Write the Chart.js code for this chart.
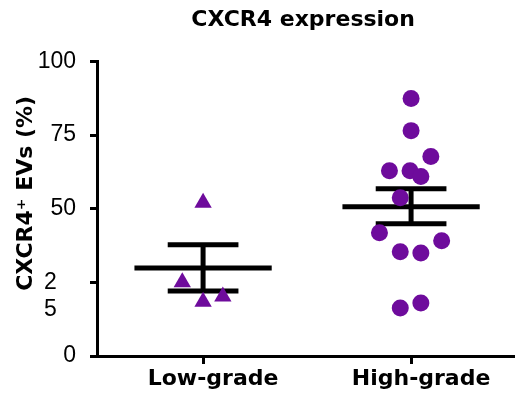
<!DOCTYPE html>
<html>
<head>
<meta charset="utf-8">
<script src="https://cdn.jsdelivr.net/npm/chart.js@4"></script>
<style>
  body { margin: 0; background: #fff; }
  #wrap { width: 523px; height: 408px; }
</style>
</head>
<body>
<div id="wrap"><canvas id="chart"></canvas></div>
<script>
// DATA
const categories = ["Low-grade", "High-grade"];
const yTicks = [0, 25, 50, 75, 100];

// individual points (x = category position incl. jitter, y = %)
const lowX = [1.0, 0.9, 1.0, 1.095];
const lowY = [52.0, 25.0, 18.4, 20.2];
const highX = [2.0, 2.0, 2.095, 1.896, 1.995, 2.047, 1.948, 1.848, 2.147, 1.948, 2.047, 2.047, 1.948];
const highY = [87.4, 76.5, 67.7, 62.9, 62.9, 60.9, 53.7, 41.8, 39.1, 35.4, 35.0, 18.0, 16.3];

// mean +/- SEM
const means = [29.9, 50.7];
const semUp = [37.8, 56.8];
const semDown = [22.1, 44.9];

const purple = "#6e0b9c";
const meanHalf = 0.33;
const capHalf = 0.17;

const toPts = (xs, ys) => xs.map((x, i) => ({ x, y: ys[i] }));

function seg(x1, y1, x2, y2) {
    return {
        type: "line",
        data: [{ x: x1, y: y1 }, { x: x2, y: y2 }],
        borderColor: "#000",
        borderWidth: 5,
        pointRadius: 0,
        borderCapStyle: "butt",
        showLine: true
    };
}

const datasets = [
    { label: "Low", data: toPts(lowX, lowY), pointStyle: "triangle", pointRadius: 10,
      backgroundColor: purple, borderColor: purple, borderWidth: 0 },
    { label: "High", data: toPts(highX, highY), pointStyle: "circle", pointRadius: 8.5,
      backgroundColor: purple, borderColor: purple, borderWidth: 0 }
];

means.forEach((m, i) => {
    const c = i + 1;
    datasets.push(seg(c - meanHalf, m, c + meanHalf, m));
    datasets.push(seg(c, semDown[i], c, semUp[i]));
    datasets.push(seg(c - capHalf, semUp[i], c + capHalf, semUp[i]));
    datasets.push(seg(c - capHalf, semDown[i], c + capHalf, semDown[i]));
});

new Chart(document.getElementById("chart"), {
    type: "scatter",
    data: { datasets },
    options: {
        responsive: true,
        maintainAspectRatio: false,
        animation: false,
        layout: { padding: { right: 1, left: 0, top: 0, bottom: 0 } },
        plugins: {
            legend: { display: false },
            tooltip: { enabled: false },
            title: {
                display: true,
                text: "           CXCR4 expression",
                color: "#000",
                font: { family: "DejaVu Sans", size: 22, weight: "bold" },
                padding: { top: 7, bottom: 28 }
            }
        },
        scales: {
            x: {
                type: "linear",
                min: 0.49,
                max: 2.49,
                afterBuildTicks: (s) => { s.ticks = categories.map((c, i) => ({ value: i + 1 })); },
                afterFit: (s) => { s.height = 52; s.paddingLeft = 0; s.paddingRight = 0; },
                ticks: {
                    color: "#000",
                    padding: 2,
                    autoSkip: false,
                    maxRotation: 0,
                    labelOffset: 10,
                    font: { family: "DejaVu Sans", size: 22, weight: "bold" },
                    callback: (v) => categories[Math.round(v) - 1]
                },
                grid: { drawOnChartArea: false, color: "#000", lineWidth: 3, tickLength: 8 },
                border: { display: true, color: "#000", width: 3 }
            },
            y: {
                min: 0,
                max: 100,
                afterBuildTicks: (s) => { s.ticks = yTicks.map(v => ({ value: v })); },
                afterFit: (s) => { s.width = 97; },
                ticks: {
                    color: "#000",
                    padding: 14,
                    autoSkip: false,
                    font: { family: "Liberation Sans", size: 23 },
                    callback: (v) => v === 25 ? ["", "2   ", "5   "] : String(v)
                },
                grid: { drawOnChartArea: false, color: "#000", lineWidth: 3, tickLength: 7 },
                border: { display: true, color: "#000", width: 3 },
                title: {
                    display: true,
                    text: "    CXCR4\u207A EVs (%)",
                    color: "#000",
                    font: { family: "DejaVu Sans", size: 22, weight: "bold" },
                    padding: { top: 13, bottom: 0 }
                }
            }
        }
    }
});
</script>
</body>
</html>
